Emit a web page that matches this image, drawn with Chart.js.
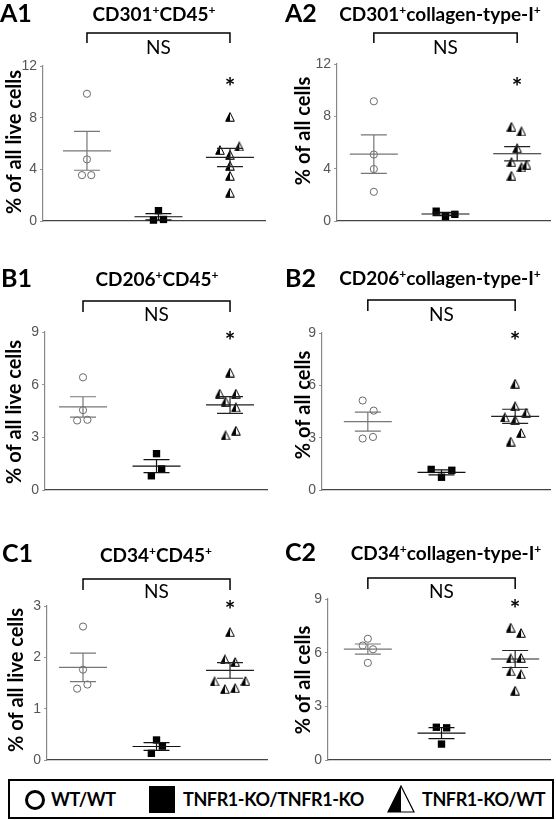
<!DOCTYPE html>
<html>
<head>
<meta charset="utf-8">
<script src="https://cdn.jsdelivr.net/npm/chart.js@4.4.1/dist/chart.umd.min.js"></script>
<style>
body { margin: 0; background: #fff; }
#wrap { position: relative; width: 556px; height: 820px; overflow: hidden; }
#wrap canvas { position: absolute; }
#legend { position: absolute; left: 8px; top: 779px; width: 542px; height: 36px; border: 2px solid #000;
          font: bold 18px Lato, sans-serif; color: #000; letter-spacing: -0.4px; }
#legend .it { position: absolute; top: 0; height: 36px; line-height: 36px; white-space: nowrap; }
#legend svg { position: absolute; }
</style>
</head>
<body>
<div id="wrap">
  <canvas id="cA1" width="278" height="245"></canvas>
  <canvas id="cA2" width="278" height="245"></canvas>
  <canvas id="cB1" width="278" height="255"></canvas>
  <canvas id="cB2" width="278" height="255"></canvas>
  <canvas id="cC1" width="278" height="250"></canvas>
  <canvas id="cC2" width="278" height="250"></canvas>
  <div id="legend">
    <svg style="left:14px;top:8px" width="22" height="22"><circle cx="11" cy="11" r="8.5" fill="#fff" stroke="#000" stroke-width="3"/></svg>
    <span class="it" style="left:41px">WT/WT</span>
    <svg style="left:139px;top:5px" width="26" height="27"><rect x="0" y="0" width="26" height="27" fill="#000"/></svg>
    <span class="it" style="left:173px">TNFR1-KO/TNFR1-KO</span>
    <svg style="left:377px;top:4px" width="28" height="28"><polygon points="14,1 1,27 14,27" fill="#000"/><polygon points="14,1 1,27 27,27" fill="none" stroke="#000" stroke-width="1.2"/></svg>
    <span class="it" style="left:412px">TNFR1-KO/WT</span>
  </div>
</div>
<script>
const groups = ["WT/WT", "TNFR1-KO/TNFR1-KO", "TNFR1-KO/WT"];

/* A1 CD301+CD45+ */
const a1Wt = [9.85, 4.77, 3.55, 3.55];
const a1WtJit = [0, 0, -0.07, 0.06];
const a1Ko = [0.8, 0.07, 0.12];
const a1KoJit = [0, -0.07, 0.07];
const a1Mix = [8.07, 5.5, 5.77, 5.13, 4.28, 3.5, 2.2];
const a1MixJit = [0, -0.14, 0.13, 0, 0, 0, 0];
const a1Ticks = [0, 4, 8, 12];
const a1Star = 10.8;

/* A2 CD301+collagen-type-I+ */
const a2Wt = [9.15, 5.08, 3.97, 2.23];
const a2WtJit = [0, 0, 0, 0];
const a2Ko = [0.75, 0.34, 0.51];
const a2KoJit = [-0.13, 0, 0.13];
const a2Mix = [7.2, 6.85, 5.57, 4.5, 4.1, 4.3, 3.46];
const a2MixJit = [-0.08, 0.06, 0, -0.08, 0.06, 0.13, -0.08];
const a2Ticks = [0, 4, 8, 12];
const a2Star = 10.6;

/* B1 CD206+CD45+ */
const b1Wt = [6.42, 4.55, 3.96, 4.0];
const b1WtJit = [0, 0, -0.08, 0.06];
const b1Ko = [2.07, 1.2, 0.81];
const b1KoJit = [0, 0.07, -0.07];
const b1Mix = [6.69, 5.49, 5.49, 5.04, 4.71, 3.11, 3.38];
const b1MixJit = [0, -0.14, 0.08, -0.06, 0.08, -0.06, 0.08];
const b1Ticks = [0, 3, 6, 9];
const b1Star = 8.78;

/* B2 CD206+collagen-type-I+ */
const b2Wt = [5.13, 4.55, 2.95, 3.04];
const b2WtJit = [-0.07, 0.08, -0.07, 0.07];
const b2Ko = [1.18, 0.73, 1.13];
const b2KoJit = [-0.14, 0, 0.14];
const b2Mix = [6.1, 4.8, 4.16, 4.43, 4.02, 3.27, 2.78];
const b2MixJit = [0, 0, -0.14, 0.15, 0, 0.08, -0.06];
const b2Ticks = [0, 3, 6, 9];
const b2Star = 8.85;

/* C1 CD34+CD45+ */
const c1Wt = [2.6, 1.76, 1.39, 1.47];
const c1WtJit = [0, 0, -0.08, 0.06];
const c1Ko = [0.39, 0.27, 0.13];
const c1KoJit = [0, 0.08, -0.07];
const c1Mix = [2.49, 1.96, 1.91, 1.53, 1.54, 1.38, 1.4];
const c1MixJit = [0, -0.07, 0.07, -0.21, 0.21, -0.07, 0.07];
const c1Ticks = [0, 1, 2, 3];
const c1Star = 3.02;

/* C2 CD34+collagen-type-I+ */
const c2Wt = [6.78, 6.4, 6.19, 5.43];
const c2WtJit = [0, -0.07, 0.07, 0];
const c2Ko = [1.83, 1.8, 0.89];
const c2KoJit = [-0.07, 0.07, 0];
const c2Mix = [7.4, 7.1, 5.68, 5.71, 4.96, 4.79, 3.88];
const c2MixJit = [-0.06, 0.08, -0.06, 0.08, -0.06, 0.08, 0];
const c2Ticks = [0, 3, 6, 9];
const c2Star = 8.72;

/* layout, page coordinates */
const panels = [
  { id: "A1", title: "CD301⁺CD45⁺", yTitle: "% of all live cells", ticks: a1Ticks, star: a1Star,
    sets: [[a1Wt, a1WtJit], [a1Ko, a1KoJit], [a1Mix, a1MixJit]],
    box: [0, 0], area: [43, 66, 265, 229], xr: [0.385, 3.49],
    lab: [0, 14], head: [154, 14], brk: [33, 43], ns: 48, yt: [15, 142] },
  { id: "A2", title: "CD301⁺collagen-type-I⁺", yTitle: "% of all cells", ticks: a2Ticks, star: a2Star,
    sets: [[a2Wt, a2WtJit], [a2Ko, a2KoJit], [a2Mix, a2MixJit]],
    box: [278, 0], area: [337, 64, 551, 229], xr: [0.486, 3.458],
    lab: [285, 14], head: [440, 14], brk: [33, 43], ns: 48, yt: [304, 131] },
  { id: "B1", title: "CD206⁺CD45⁺", yTitle: "% of all live cells", ticks: b1Ticks, star: b1Star,
    sets: [[b1Wt, b1WtJit], [b1Ko, b1KoJit], [b1Mix, b1MixJit]],
    box: [0, 250], area: [45, 332, 267, 498], xr: [0.483, 3.503],
    lab: [1, 279], head: [157, 279], brk: [301, 312], ns: 315, yt: [15, 412] },
  { id: "B2", title: "CD206⁺collagen-type-I⁺", yTitle: "% of all cells", ticks: b2Ticks, star: b2Star,
    sets: [[b2Wt, b2WtJit], [b2Ko, b2KoJit], [b2Mix, b2MixJit]],
    box: [278, 250], area: [322, 333, 551, 498], xr: [0.378, 3.473],
    lab: [285, 279], head: [440, 278], brk: [300, 311], ns: 315, yt: [304, 405] },
  { id: "C1", title: "CD34⁺CD45⁺", yTitle: "% of all live cells", ticks: c1Ticks, star: c1Star,
    sets: [[c1Wt, c1WtJit], [c1Ko, c1KoJit], [c1Mix, c1MixJit]],
    box: [0, 525], area: [47, 606, 267, 768], xr: [0.51, 3.503],
    lab: [2, 554], head: [156, 555], brk: [579, 590], ns: 592, yt: [17, 680] },
  { id: "C2", title: "CD34⁺collagen-type-I⁺", yTitle: "% of all cells", ticks: c2Ticks, star: c2Star,
    sets: [[c2Wt, c2WtJit], [c2Ko, c2KoJit], [c2Mix, c2MixJit]],
    box: [278, 525], area: [328, 599, 551, 768], xr: [0.459, 3.473],
    lab: [285, 553], head: [446, 553], brk: [578, 589], ns: 592, yt: [304, 680] }
];

/* half-filled triangle marker */
const tri = document.createElement("canvas");
tri.width = 10; tri.height = 10;
(function () {
  const g = tri.getContext("2d");
  g.fillStyle = "#fff";
  g.beginPath(); g.moveTo(5, 0.7); g.lineTo(0.7, 9.3); g.lineTo(9.3, 9.3); g.closePath(); g.fill();
  g.fillStyle = "#000";
  g.beginPath(); g.moveTo(5, 0.7); g.lineTo(0.7, 9.3); g.lineTo(5, 9.3); g.closePath(); g.fill();
  g.strokeStyle = "#000"; g.lineWidth = 1;
  g.beginPath(); g.moveTo(5, 0.7); g.lineTo(0.7, 9.3); g.lineTo(9.3, 9.3); g.closePath(); g.stroke();
})();

const AXIS_W = 30;

function richTitle(ctx, str, cx, cy, size) {
  const parts = str.split("⁺");
  const base = "bold " + size + "px Lato";
  const sup = "bold " + Math.round(size * 0.62) + "px Lato";
  let w = 0;
  parts.forEach((p, i) => {
    ctx.font = base; w += ctx.measureText(p).width;
    if (i < parts.length - 1) { ctx.font = sup; w += ctx.measureText("+").width; }
  });
  let x = cx - w / 2;
  const by = cy + size * 0.36;
  ctx.textAlign = "left"; ctx.textBaseline = "alphabetic"; ctx.fillStyle = "#000";
  parts.forEach((p, i) => {
    ctx.font = base; ctx.fillText(p, x, by); x += ctx.measureText(p).width;
    if (i < parts.length - 1) {
      ctx.font = sup; ctx.fillText("+", x, by - size * 0.38); x += ctx.measureText("+").width;
    }
  });
}

/* mean +/- SEM bars */
const semBars = {
  id: "semBars",
  afterDatasetsDraw(chart) {
    const { ctx, scales: { x, y } } = chart;
    const colors = ["#777", "#111", "#222"];
    chart.data.datasets.forEach((ds, i) => {
      const v = ds.data.map(p => p.y);
      const m = v.reduce((a, b) => a + b, 0) / v.length;
      const sd = Math.sqrt(v.reduce((a, b) => a + (b - m) * (b - m), 0) / (v.length - 1));
      const se = sd / Math.sqrt(v.length);
      const px = x.getPixelForValue(i + 1);
      const ym = y.getPixelForValue(m), yh = y.getPixelForValue(m + se), yl = y.getPixelForValue(m - se);
      ctx.save();
      ctx.strokeStyle = colors[i]; ctx.lineWidth = 1.2;
      ctx.beginPath();
      ctx.moveTo(px - 24, ym); ctx.lineTo(px + 24, ym);
      ctx.moveTo(px, yh); ctx.lineTo(px, yl);
      ctx.moveTo(px - 13, yh); ctx.lineTo(px + 13, yh);
      ctx.moveTo(px - 13, yl); ctx.lineTo(px + 13, yl);
      ctx.stroke();
      ctx.restore();
    });
  }
};

/* panel label, title, bracket, NS, star, y title */
const header = {
  id: "header",
  afterDraw(chart) {
    const p = chart.options.plugins.header.panel;
    const { ctx, scales: { x, y } } = chart;
    const ox = p.box[0], oy = p.box[1];
    ctx.save();
    ctx.fillStyle = "#000";
    ctx.font = "bold 25px Lato";
    ctx.textAlign = "left"; ctx.textBaseline = "middle";
    ctx.fillText(p.id, p.lab[0] - ox, p.lab[1] - oy);
    richTitle(ctx, p.title, p.head[0] - ox, p.head[1] - oy, 19);

    const x1 = x.getPixelForValue(1), x3 = x.getPixelForValue(3);
    ctx.strokeStyle = "#000"; ctx.lineWidth = 1.5;
    ctx.beginPath();
    ctx.moveTo(x1, p.brk[1] - oy); ctx.lineTo(x1, p.brk[0] - oy);
    ctx.lineTo(x3, p.brk[0] - oy); ctx.lineTo(x3, p.brk[1] - oy);
    ctx.stroke();
    ctx.font = "19px Lato";
    ctx.textAlign = "center"; ctx.textBaseline = "middle";
    ctx.fillText("NS", (x1 + x3) / 2, p.ns - oy);

    ctx.font = "bold 25px Lato";
    ctx.fillText("*", x3, y.getPixelForValue(p.star) + 6);

    ctx.translate(p.yt[0] - ox, p.yt[1] - oy);
    ctx.rotate(-Math.PI / 2);
    ctx.font = "bold 20px Lato";
    ctx.fillText(p.yTitle, 0, 0);
    ctx.restore();
  }
};

panels.forEach(p => {
  const cv = document.getElementById("c" + p.id);
  cv.style.left = p.box[0] + "px";
  cv.style.top = p.box[1] + "px";
  const [l, t, r, b] = p.area;
  const pts = (vals, jit, g) => vals.map((v, k) => ({ x: g + jit[k], y: v }));
  new Chart(cv, {
    type: "scatter",
    data: {
      datasets: [{
        label: groups[0],
        data: pts(p.sets[0][0], p.sets[0][1], 1),
        pointStyle: "circle", pointRadius: 3.6, pointBorderWidth: 1,
        pointBorderColor: "#6a6a6a", pointBackgroundColor: "#fff", clip: false
      }, {
        label: groups[1],
        data: pts(p.sets[1][0], p.sets[1][1], 2),
        pointStyle: "rect", pointRadius: 5.2, pointBorderWidth: 0,
        pointBorderColor: "#000", pointBackgroundColor: "#000", clip: false
      }, {
        label: groups[2],
        data: pts(p.sets[2][0], p.sets[2][1], 3),
        pointStyle: tri, pointRadius: 5, clip: false
      }]
    },
    options: {
      responsive: false,
      animation: false,
      devicePixelRatio: 1,
      events: [],
      layout: {
        padding: {
          left: l - p.box[0] - AXIS_W,
          top: t - p.box[1],
          right: p.box[0] + cv.width - r,
          bottom: p.box[1] + cv.height - b
        }
      },
      scales: {
        x: {
          type: "linear", min: p.xr[0], max: p.xr[1],
          ticks: { display: false },
          grid: { display: false },
          border: { display: true, color: "#444", width: 1.2 }
        },
        y: {
          min: p.ticks[0], max: p.ticks[p.ticks.length - 1],
          ticks: { stepSize: p.ticks[1] - p.ticks[0], color: "#555", padding: 3,
                   font: { family: "Liberation Sans", size: 14 } },
          grid: { display: true, drawOnChartArea: false, drawTicks: true, tickLength: 3, color: "#999" },
          border: { display: true, color: "#888", width: 1.2 },
          afterFit: s => { s.width = AXIS_W; }
        }
      },
      plugins: {
        legend: { display: false },
        tooltip: { enabled: false },
        header: { panel: p }
      }
    },
    plugins: [semBars, header]
  });
});
</script>
</body>
</html>
